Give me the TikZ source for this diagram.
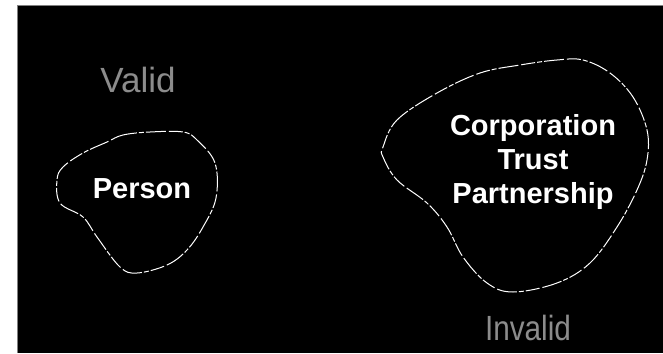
\documentclass[tikz,border=0pt]{standalone}
\usepackage{fontspec}
\setmainfont{Liberation Sans}
\begin{document}
\begin{tikzpicture}[x=1pt,y=-1pt,
  blob/.style={draw=white,line width=1pt,dash pattern=on 14pt off 2pt on 5pt off 2pt on 20pt off 3pt},
  maintext/.style={text=white,font=\fontsize{29}{34}\selectfont\bfseries,align=center,inner sep=0pt},
  faint/.style={text=white!55!black,font=\fontsize{35}{40}\selectfont,inner sep=0pt}]
\useasboundingbox (0,0) rectangle (663,353);
\fill[white] (0,0) rectangle (663,353);
\fill[black] (17,6) rectangle (663,353);
\draw[gray,line width=1pt] (17,353) -- (17,6) -- (663,6);
% Person blob
\draw[blob] plot[smooth cycle,tension=0.6] coordinates {
 (107,142) (123,135) (150,132) (183,132) (197,140) (215,163)
 (216,198) (203,227) (187,250) (167,265) (137,273) (120,267)
 (97,237) (83,217) (60,203) (57,180) (63,167) (83,153)};
% Organisation blob
\draw[blob] plot[smooth cycle,tension=0.6] coordinates {
 (383,147) (397,120) (437,93) (480,73) (520,65) (557,60) (583,60)
 (610,73) (633,97) (647,130) (647,160) (637,190) (617,227) (590,263)
 (557,283) (513,292) (487,283) (463,257) (447,227) (427,203) (397,180) (383,157)};
\node[maintext] (person) at (142,189) {Person};
\node[maintext] (org) at (533,162) {Corporation\\Trust\\Partnership};
\node[faint] (valid) at (138,80) {Valid};
\node[faint,xscale=0.85] (invalid) at (528,328) {Invalid};
\end{tikzpicture}
\end{document}
